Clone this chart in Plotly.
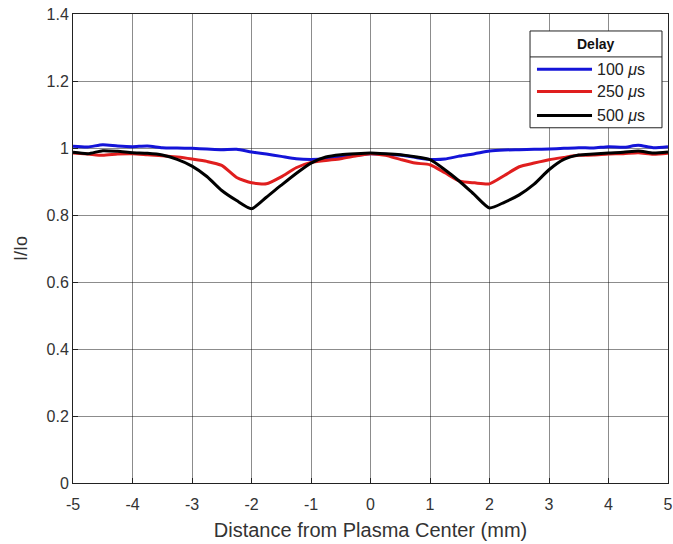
import plotly.graph_objects as go

# Transverse position across the plasma (mm)
distance_mm = [-5.0, -4.75, -4.5, -4.25, -4.0, -3.75, -3.5, -3.25, -3.0, -2.75,
               -2.5, -2.25, -2.0, -1.75, -1.5, -1.25, -1.0, -0.75, -0.5, -0.25,
               0.0, 0.25, 0.5, 0.75, 1.0, 1.25, 1.5, 1.75, 2.0, 2.25,
               2.5, 2.75, 3.0, 3.25, 3.5, 3.75, 4.0, 4.25, 4.5, 4.75, 5.0]

# Normalised transmitted intensity I/Io for each delay
ratio_100us = [1.005, 1.003, 1.010, 1.006, 1.004, 1.006, 1.001, 1.000, 0.999, 0.997,
               0.995, 0.996, 0.988, 0.982, 0.975, 0.968, 0.966, 0.968, 0.974, 0.978,
               0.983, 0.981, 0.979, 0.972, 0.966, 0.967, 0.976, 0.983, 0.991, 0.994,
               0.995, 0.996, 0.997, 0.999, 1.001, 1.000, 1.004, 1.002, 1.008, 1.001, 1.004]

ratio_250us = [0.985, 0.982, 0.978, 0.982, 0.983, 0.980, 0.977, 0.973, 0.967, 0.960,
               0.948, 0.912, 0.896, 0.893, 0.914, 0.941, 0.957, 0.963, 0.968, 0.976,
               0.983, 0.978, 0.966, 0.955, 0.950, 0.926, 0.901, 0.896, 0.893, 0.918,
               0.944, 0.955, 0.965, 0.972, 0.978, 0.979, 0.982, 0.983, 0.986, 0.981, 0.984]

ratio_500us = [0.987, 0.983, 0.992, 0.990, 0.986, 0.984, 0.979, 0.966, 0.946, 0.915,
               0.873, 0.843, 0.819, 0.853, 0.889, 0.924, 0.955, 0.973, 0.980, 0.983,
               0.985, 0.983, 0.980, 0.974, 0.965, 0.935, 0.900, 0.860, 0.821, 0.838,
               0.860, 0.892, 0.935, 0.966, 0.979, 0.982, 0.985, 0.987, 0.991, 0.985, 0.988]

series = [
    ("100 <i>μ</i>s", ratio_100us, "#1414d8"),
    ("250 <i>μ</i>s", ratio_250us, "#e01e1e"),
    ("500 <i>μ</i>s", ratio_500us, "#000000"),
]
legend_title = "Delay"

x_ticks = [-5, -4, -3, -2, -1, 0, 1, 2, 3, 4, 5]
y_ticks = [0, 0.2, 0.4, 0.6, 0.8, 1.0, 1.2, 1.4]

fig = go.Figure()
for name, values, color in series:
    fig.add_trace(go.Scatter(
        x=distance_mm, y=values, name=name, mode="lines",
        line=dict(color=color, width=3, shape="spline", smoothing=0.6),
        showlegend=False,
    ))

family = "Liberation Sans, Arial, sans-serif"
axis_font = dict(family=family, size=15, color="#333333")

# Legend box with a titled header, placed in the upper right corner of the axes
box_x0, box_x1, box_top, box_bottom = 0.7681, 0.9899, 0.9638, 0.7574
header_rule = 0.9085
fig.add_shape(type="rect", xref="paper", yref="paper",
              x0=box_x0, x1=box_x1, y0=box_bottom, y1=box_top,
              fillcolor="white", line=dict(color="#222222", width=1), layer="above")
fig.add_shape(type="line", xref="paper", yref="paper",
              x0=box_x0, x1=box_x1, y0=header_rule, y1=header_rule,
              line=dict(color="#222222", width=1), layer="above")
fig.add_annotation(xref="paper", yref="paper", x=(box_x0 + box_x1) / 2,
                   y=(box_top + header_rule) / 2, text=f"<b>{legend_title}</b>",
                   showarrow=False, xanchor="center", yanchor="middle",
                   font=dict(family=family, size=14, color="#111111"))

entry_rows = [0.8823, 0.8347, 0.7836]
for (name, _, color), row in zip(series, entry_rows):
    fig.add_shape(type="line", xref="paper", yref="paper",
                  x0=0.7798, x1=0.8723, y0=row, y1=row,
                  line=dict(color=color, width=3), layer="above")
    fig.add_annotation(xref="paper", yref="paper", x=0.877, y=row,
                       text=name, showarrow=False, xanchor="left", yanchor="middle",
                       font=dict(family=family, size=16, color="#222222"))

fig.update_layout(
    width=673, height=544,
    margin=dict(l=73, r=5, t=14, b=61, autoexpand=False),
    paper_bgcolor="white", plot_bgcolor="white",
    font=axis_font,
    showlegend=False,
    xaxis=dict(
        range=[-5, 5], tickvals=x_ticks, ticktext=[str(t) for t in x_ticks],
        automargin=False,
        showgrid=True, gridcolor="rgba(0,0,0,0.45)", gridwidth=1,
        zeroline=False, showline=True, linecolor="#222222", linewidth=1, mirror=True,
        ticks="inside", ticklen=5, tickcolor="#222222", ticklabelstandoff=7,
        tickfont=dict(size=16),
        title=dict(text="Distance from Plasma Center (mm)", font=dict(size=20), standoff=10),
    ),
    yaxis=dict(
        range=[0, 1.4], tickvals=y_ticks, ticktext=["0", "0.2", "0.4", "0.6", "0.8", "1", "1.2", "1.4"],
        automargin=False,
        showgrid=True, gridcolor="rgba(0,0,0,0.45)", gridwidth=1,
        zeroline=False, showline=True, linecolor="#222222", linewidth=1, mirror=True,
        ticks="inside", ticklen=5, tickcolor="#222222",
        tickfont=dict(size=16),
        title=dict(text="I/Io", font=dict(size=18), standoff=14),
    ),
)

fig.write_html("out.html")
